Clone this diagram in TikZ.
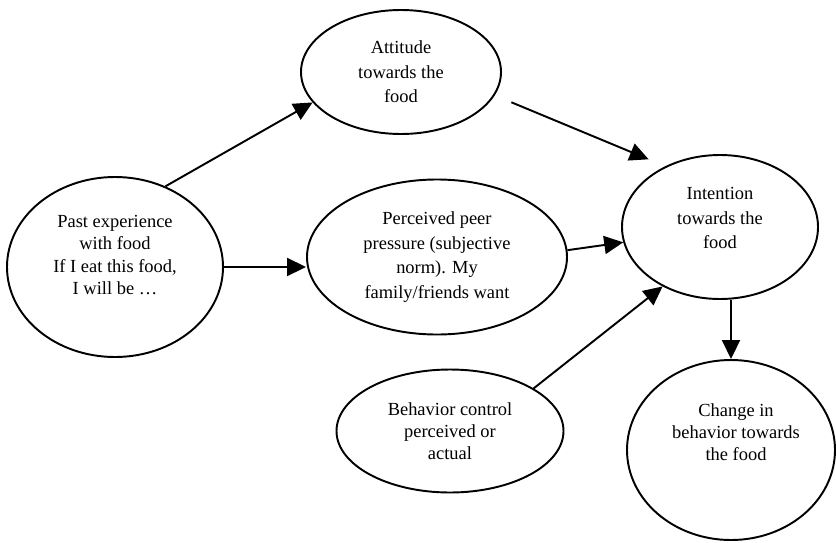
\documentclass[tikz,border=0pt]{standalone}
\usepackage{fontspec}
\setmainfont{Liberation Serif}
\usetikzlibrary{arrows.meta,shapes.geometric}

\begin{document}
\begin{tikzpicture}[
  oval/.style={draw,ellipse,line width=1.1pt,inner sep=0pt},
  lbl/.style={align=center,font=\fontsize{10.5}{14}\selectfont},
  tight/.style={font=\fontsize{10.5}{12.7}\selectfont},
  arr/.style={line width=1.1pt,-{Triangle[length=3.8mm,width=3.6mm]}}
]
\useasboundingbox (0,0) rectangle (16.72,10.84);

\node[oval,minimum width=4cm,minimum height=2.48cm] (att) at (8.02,9.40) {};
\node[oval,minimum width=4.32cm,minimum height=3.6cm] (past) at (2.30,5.50) {};
\node[oval,minimum width=5.2cm,minimum height=3.1cm] (peer) at (8.74,5.70) {};
\node[oval,minimum width=3.92cm,minimum height=2.88cm] (int) at (14.40,6.30) {};
\node[oval,minimum width=4.54cm,minimum height=2.46cm] (beh) at (9.00,2.22) {};
\node[oval,minimum width=4.16cm,minimum height=3.6cm] (chg) at (14.62,1.84) {};

\node[lbl] (atttxt) at (att) {Attitude\\ towards the\\ food};
\node[lbl,tight] (pasttxt) at ([yshift=2.4mm]past.center)
  {Past experience\\ with food\\ If I eat this food,\\ I will be \dots};
\node[lbl] (peertxt) at (peer)
  {Perceived peer\\ pressure (subjective\\ norm). My\\ family/friends want};
\node[lbl] (inttxt) at ([yshift=1.8mm]int.center) {Intention\\ towards the\\ food};
\node[lbl,tight] (behtxt) at (beh) {Behavior control\\ perceived or\\ actual};
\node[lbl,tight] (chgtxt) at ([xshift=1mm,yshift=3.6mm]chg.center)
  {Change in\\ behavior towards\\ the food};

\draw[arr] (past.58) -- (att.199);
\draw[arr,shorten <=3.6mm,shorten >=3.6mm] (att.-14) -- (int.132);
\draw[arr] (past.east) -- (past.east -| peer.west);
\draw[arr] (peer.3) -- (int.189);
\draw[arr] (beh.27) -- (int.226);
\draw[arr] (int.south -| chg.north) -- (chg.north);
\end{tikzpicture}
\end{document}
